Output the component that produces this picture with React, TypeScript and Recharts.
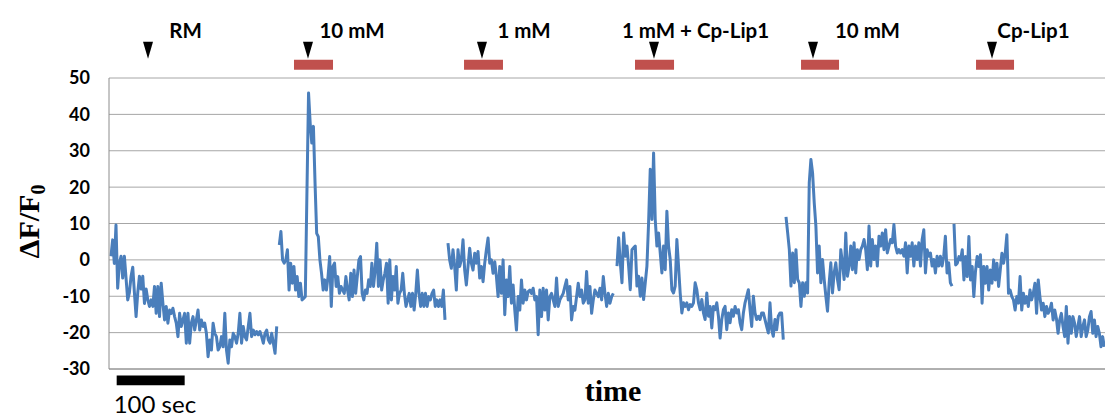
import { LineChart, Line, XAxis, YAxis, CartesianGrid, ReferenceArea, ReferenceDot } from "recharts";

// dF/F0 trace, one array per recording segment
const seg1 = [1, 5.5, -1, 9.6, -7.8, -1, 1, -5, 1, -5, -11, -9, -4.5, -2, -9, -15.6, -9, -4.5, -8, -4.5, -12, -8, -11, -12.8, -11, -12.8, -7.3, -14.7, -7.3, -15.6, -6.4, -11.9, -16.5, -12.8, -17.4, -13.8, -14.7, -13.3, -15.6, -17.4, -21.1, -14.7, -18.3, -16.5, -14.7, -22.9, -14.7, -22.9, -17.4, -15.6, -19.3, -16.5, -13.8, -19.3, -16.5, -18.3, -17.4, -20.2, -26.6, -22, -24.8, -17.4, -20.2, -21.1, -24.8, -23.9, -21.1, -23.9, -14.7, -24.8, -28.4, -22, -23.9, -20.2, -21.1, -22.9, -20.2, -14.7, -22.9, -18.3, -21.1, -22, -18.3, -14.7, -21.1, -19.3, -20.6, -19.7, -20.6, -19.7, -21.1, -22.9, -20.2, -19.3, -22, -22.9, -20.2, -22.9, -25.7, -18.3];
const seg2 = [4.1, 7.8, 0, -0.9, 0, 2.8, -8.3, -0.9, -6.4, -1.8, -8.3, -4.6, -10.1, -6.4, -11, -10.6, -10.1, 18.3, 45.9, 37.6, 32.1, 36.7, 21.1, 7.3, 6.4, 0, -3.7, -8.3, -5.5, -8.3, -4.6, 0.9, -12.8, -1.8, -0.9, -7.3, -4.6, -9.2, -7.3, -8.3, -9.2, -4.6, -8.3, -11, -3.7, -10.1, -2.8, -9.2, -4.6, 0, 0.9, -9.2, -11, -8.3, -9.2, -5.5, -7.3, -0.9, -7.3, -2.8, 4.6, -7.3, 0, -8.3, -5.5, -3.7, -0.9, -11.9, 0, -11, -4.6, -8.3, -1.8, -11.9, -9.2, -8.3, -3.7, -9.2, -12.8, -11, -9.2, -12.8, -9.2, -13.8, -9.2, -2.8, -9.2, -12.8, -9.2, -12.8, -9.2, -12.8, -10.1, -11, -9.2, -8.3, -12.8, -11, -12.8, -11, -12.8, -8.3, -16.5];
const seg3 = [4.6, 0, -2.3, 2.8, -1.8, -8.3, 2.8, -1.8, 0, 5.5, -2.8, -6.9, -1.8, 3.2, -0.9, -2.8, 1.8, -0.9, 2.3, -5, -1.8, -6, -0.9, 2.8, 6, -0.9, 0, -3.7, -0.5, -4.6, -10.1, -1.8, -9.2, 0, -15.1, -5.5, -10.1, -1.8, -11.9, -6.9, -13.8, -19.3, -10.1, -13.8, -5.5, -11.9, -8.3, -11, -8.7, -8.3, -9.2, -7.8, -11, -10.1, -20.6, -8.3, -15.6, -7.8, -13.8, -8.3, -16.5, -10.1, -9.2, -11, -12.8, -5, -12.8, -11, -10.1, -9.2, -7.3, -5.5, -11, -7.3, -16.5, -12.8, -13.8, -10.1, -6.4, -10.1, -8.3, -11.9, -11, -3.2, -11.9, -7.3, -14.7, -11, -8.3, -9.2, -10.1, -7.8, -11, -4.6, -9.2, -12.8, -9.2, -11.9, -10.1, -9.2];
const seg4 = [-1.7, 6.1, -0.8, -6.3, 7.4, 1, 3.8, -1.7, -8.2, 2.8, 3.3, 3.8, -7.2, -4.5, -10, -5, -10.9, -6.3, -1.7, 10.2, 24.9, 11.1, 29.4, 11.1, 3.8, 7.4, 1.9, -3.6, 3.8, -2.7, 13.4, 3.8, 0.1, -8.2, -9.1, -7.2, 5.6, -1.7, -9.1, -14.6, -11.8, -12.8, -11.8, -13.7, -12.3, -12.8, -11.8, -6.3, -8.2, -11.8, -13.7, -10.9, -14.6, -16.4, -9.1, -15.5, -12.8, -18.7, -12.8, -13.7, -11.8, -15.5, -21.5, -16.4, -13.7, -12.8, -19.2, -14.6, -17.3, -13.7, -15.5, -12.8, -14.6, -13.7, -17.3, -19.2, -14.6, -11.8, -10, -8.2, -13.7, -18.3, -10, -14.6, -16.4, -15.5, -16.4, -14.6, -14.6, -16.4, -18.3, -20.1, -11.8, -19.2, -21, -16.4, -19.2, -15.5, -14.6, -14.6, -21.9];
const seg5 = [11.8, 7.4, 2.8, -7.2, 1.9, -6.3, 2.8, -5.4, -6.3, -12.8, -6.3, -10, -6.3, -9.1, 21.2, 27.6, 23.9, 15.7, 9.3, -3.6, 3.8, -6.3, 0.1, -5.4, -10, -14.1, -6.3, -0.8, -9.1, -3.6, -0.8, -5.4, -8.2, 2.8, -0.8, -5.4, 7.4, -4.5, -1.7, 3.8, -2.7, 4.7, -3.6, 2.8, 0.1, 2.8, 3.8, 5.6, 2.8, -2.7, 9.3, -1.7, 5.6, 0.1, 3.8, -1.7, 6.5, 3.8, 7.4, 2.8, 8.3, 1.9, 3.8, 5.6, 4.7, 9.7, 3.8, 1.9, 2.8, 1.9, 2.8, 1, 4.7, -3.6, 3.8, 1, 4.7, -1.7, 3.8, 0.1, 4.7, -1.7, 5.6, 8.3, -3.6, 2.8, 1, 1.9, -1.7, 0.1, -3.6, 1, -1.7, 1, -1.7, 1, 6.5, -3.6, -0.8, -6.3, -7.2];
const seg6 = [9.9, -1.4, -0.9, 0.9, 0, 2.8, -5.5, 0.9, -4.6, 6.4, -5.5, -1.8, -10.1, -3.2, 0.9, -1.8, 1.4, -11.9, -1.8, -6.4, -1.8, -8.3, -2.8, -6.4, 0, -5.5, -0.9, -7.3, -2.8, 1.8, -0.9, 1.8, 6.9, -9.2, -8.3, -10.1, -11, -13.8, -10.1, -11.9, -4.6, -13.8, -9.2, -11.9, -10.1, -12.8, -8.3, -11, -9.2, -6.4, -14.7, -5.5, -10.1, -13.8, -11.9, -15.6, -12.8, -14.7, -13.8, -11.9, -16.5, -13.8, -16.1, -20.2, -16.5, -14.7, -18.3, -21.1, -12.8, -22.9, -15.6, -20.2, -15.6, -17.4, -21.1, -18.3, -15.6, -21.1, -18.3, -16.5, -21.1, -19.3, -15.6, -14.2, -20.2, -16.5, -21.1, -18.3, -20.2, -23.9, -21.1, -23.9];

// segment start / end, seconds
const segStart = [2.9, 250.5, 498.6, 747.2, 995.8, 1242.9];
const segEnd = [246.7, 494.2, 741.8, 991.8, 1240, 1464];

// stimulus annotations (seconds)
const stimLabels = ["RM", "10 mM", "1 mM", "1 mM + Cp-Lip1", "10 mM", "Cp-Lip1"];
const arrowTimes = [57.4, 292.7, 548.6, 801.6, 1035.5, 1298.8];
const labelTimes = [112.5, 357.4, 610.4, 862.7, 1115.6, 1359.8];
const barStart = [272.1, 522.2, 773.7, 1017.9, 1275.3];
const barEnd = [329.5, 579.5, 831.1, 1073.8, 1331.2];

const yTicks = [-30, -20, -10, 0, 10, 20, 30, 40, 50];
const scaleBar = [11.3, 111.3];

const segments = [seg1, seg2, seg3, seg4, seg5, seg6];
const data: { t: number; v: number | null }[] = [];
segments.forEach((vals, s) => {
  const step = (segEnd[s] - segStart[s]) / (vals.length - 1);
  vals.forEach((v, i) => data.push({ t: segStart[s] + i * step, v }));
  if (s < segments.length - 1) data.push({ t: (segEnd[s] + segStart[s + 1]) / 2, v: null });
});

const YTitle = (props: any) => {
  const vb = props.viewBox;
  const cy = vb.y + vb.height / 2 - 2;
  return (
    <text x={39} y={cy} transform={`rotate(-90, 39, ${cy})`} textAnchor="middle" fontFamily="'Liberation Serif', serif" fontWeight="bold" fontSize={30} fill="#000">
      ΔF/F<tspan fontSize={20} dy={6}>0</tspan>
    </text>
  );
};

const XTitle = (props: any) => {
  const vb = props.viewBox;
  return (
    <text x={vb.x + vb.width / 2 + 6} y={vb.y + 32} textAnchor="middle" fontFamily="'Liberation Serif', serif" fontWeight="bold" fontSize={30} fill="#000">
      time
    </text>
  );
};

const Arrow = (props: any) => {
  const { cx, cy } = props;
  return <polygon points={`${cx - 5},${cy - 8.5} ${cx + 5},${cy - 8.5} ${cx},${cy + 8.5}`} fill="#000" />;
};

const makeLabel = (text: string) => (props: any) => (
  <text x={props.cx} y={props.cy} textAnchor="middle" fontFamily="Lato, sans-serif" fontWeight="bold" fontSize={20.5} fill="#000">
    {text}
  </text>
);

const ScaleLabel = (props: any) => {
  const vb = props.viewBox;
  return (
    <text x={vb.x - 3} y={vb.y + vb.height + 28} fontFamily="Lato, sans-serif" fontSize={24} fill="#000">
      100 sec
    </text>
  );
};

export default function App() {
  return (
    <div style={{ position: "absolute", left: 0, top: 0, width: 1105, height: 417, background: "#fff" }}>
      <LineChart width={1105} height={417} data={data} margin={{ top: 78, right: 0, bottom: 0, left: 0 }}>
        <CartesianGrid horizontal vertical={false} stroke="#a6a6a6" />
        <XAxis dataKey="t" type="number" domain={[0, 1465]} allowDataOverflow tick={false} tickLine={false} axisLine={{ stroke: "#8c8c8c" }} height={48} label={<XTitle />} />
        <YAxis
          domain={[-30, 50]}
          ticks={yTicks}
          width={109}
          tickSize={0}
          tickMargin={19}
          tickLine={false}
          axisLine={{ stroke: "#8c8c8c" }}
          tick={{ fill: "#000", fontSize: 18, fontWeight: "bold", fontFamily: "Lato, sans-serif" }}
          label={<YTitle />}
        />
        {barStart.map((b, i) => (
          <ReferenceArea key={`bar-${i}`} x1={b} x2={barEnd[i]} y1={52.3} y2={55} fill="#c0504d" fillOpacity={1} stroke="none" ifOverflow="visible" />
        ))}
        {arrowTimes.map((t, i) => (
          <ReferenceDot key={`arrow-${i}`} x={t} y={57.6} shape={Arrow} ifOverflow="visible" />
        ))}
        {labelTimes.map((t, i) => (
          <ReferenceDot key={`lab-${i}`} x={t} y={61.1} shape={makeLabel(stimLabels[i])} ifOverflow="visible" />
        ))}
        <ReferenceArea x1={scaleBar[0]} x2={scaleBar[1]} y1={-34.5} y2={-31.8} fill="#000" fillOpacity={1} stroke="none" ifOverflow="visible" label={<ScaleLabel />} />
        <Line dataKey="v" type="linear" stroke="#4a7ebb" strokeWidth={3} strokeLinejoin="round" dot={false} connectNulls={false} isAnimationActive={false} />
      </LineChart>
    </div>
  );
}
